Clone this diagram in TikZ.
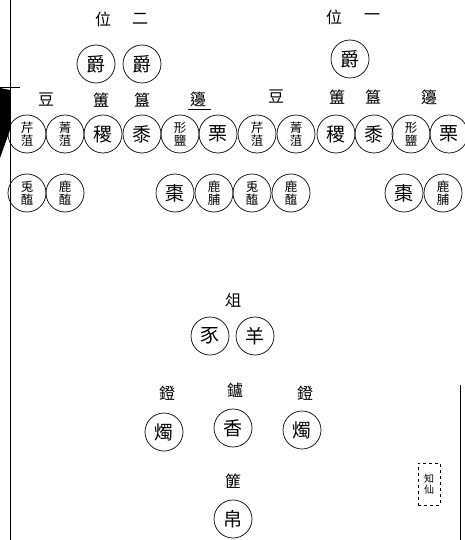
\documentclass[tikz,border=0pt]{standalone}
\usepackage{fontspec}
\newfontfamily\cjk{Noto Sans CJK TC}
\tikzset{
  dish/.style={circle, draw, line width=0.7pt, minimum size=38pt, inner sep=0pt, font=\cjk\fontsize{19}{19}\selectfont},
  dishtwo/.style={dish, align=center, font=\cjk\fontsize{12.5}{13}\selectfont},
  lbl/.style={inner sep=0pt, font=\cjk\fontsize{16}{16}\selectfont},
  small/.style={inner sep=0pt, font=\cjk\fontsize{10}{11}\selectfont, align=center},
  edge/.style={line width=0.8pt}
}
\begin{document}
\begin{tikzpicture}[x=1pt,y=-1pt]
\useasboundingbox (0,0) rectangle (465,540);
% page edges
\draw[edge] (10,0) -- (10,540);
\fill (0,88) -- (10,90) -- (10,130) -- (0,158) -- cycle;
\draw[edge] (0,87) -- (20,87);
\draw[edge] (460,385) -- (460,540);
% headings
\node[lbl] (w2a) at (103,19) {位};
\node[lbl] (w2b) at (140,19) {二};
\node[lbl] (w1a) at (334,17) {位};
\node[lbl] (w1b) at (372,17) {一};
% jue
\node[dish] (j1) at (96,64) {爵};
\node[dish] (j2) at (142,64) {爵};
\node[dish] (j3) at (350,59) {爵};
% vessel labels
\node[lbl] (ldou) at (46,100) {豆};
\node[lbl] (lfu) at (101,100) {簠};
\node[lbl] (lgui) at (142,100) {簋};
\node[lbl] (lbian) at (198,99) {籩};
\draw[line width=0.6pt] (188,109) -- (211,109);
\node[lbl] (rdou) at (276,97) {豆};
\node[lbl] (rfu) at (337,97) {簠};
\node[lbl] (rgui) at (373,97) {簋};
\node[lbl] (rbian) at (429,97) {籩};
% first row
\node[dishtwo] (a1) at (27,134) {芹\\菹};
\node[dishtwo] (a2) at (65,134) {菁\\菹};
\node[dish] (a3) at (103,134) {稷};
\node[dish] (a4) at (142,134) {黍};
\node[dishtwo] (a5) at (180,134) {形\\鹽};
\node[dish] (a6) at (218,134) {栗};
\node[dishtwo] (a7) at (257,134) {芹\\菹};
\node[dishtwo] (a8) at (296,134) {菁\\菹};
\node[dish] (a9) at (336,134) {稷};
\node[dish] (a10) at (374,134) {黍};
\node[dishtwo] (a11) at (411,134) {形\\鹽};
\node[dish] (a12) at (449,134) {栗};
% second row
\node[dishtwo] (b1) at (27,193) {兎\\醢};
\node[dishtwo] (b2) at (65,193) {鹿\\醢};
\node[dish] (b3) at (175,193) {棗};
\node[dishtwo] (b4) at (214,193) {鹿\\脯};
\node[dishtwo] (b5) at (252,193) {兎\\醢};
\node[dishtwo] (b6) at (291,193) {鹿\\醢};
\node[dish] (b7) at (404,193) {棗};
\node[dishtwo] (b8) at (443,193) {鹿\\脯};
% zu
\node[lbl] (zu) at (233,300) {俎};
\node[dish] (c1) at (210,336) {豕};
\node[dish] (c2) at (255,336) {羊};
% lamps and censer
\node[lbl] (d1) at (167,393) {鐙};
\node[lbl] (d2) at (235,390) {鑪};
\node[lbl] (d3) at (305,393) {鐙};
\node[dish] (e1) at (164,432) {燭};
\node[dish] (e2) at (233,428) {香};
\node[dish] (e3) at (302,430) {燭};
% silk
\node[lbl] (fei) at (233,481) {篚};
\node[dish] (f1) at (233,519) {帛};
% page marker
\node[small, draw, dashed, line width=0.5pt, minimum width=22pt, minimum height=42pt] (mk) at (429,484) {知\\仙};
\end{tikzpicture}
\end{document}
